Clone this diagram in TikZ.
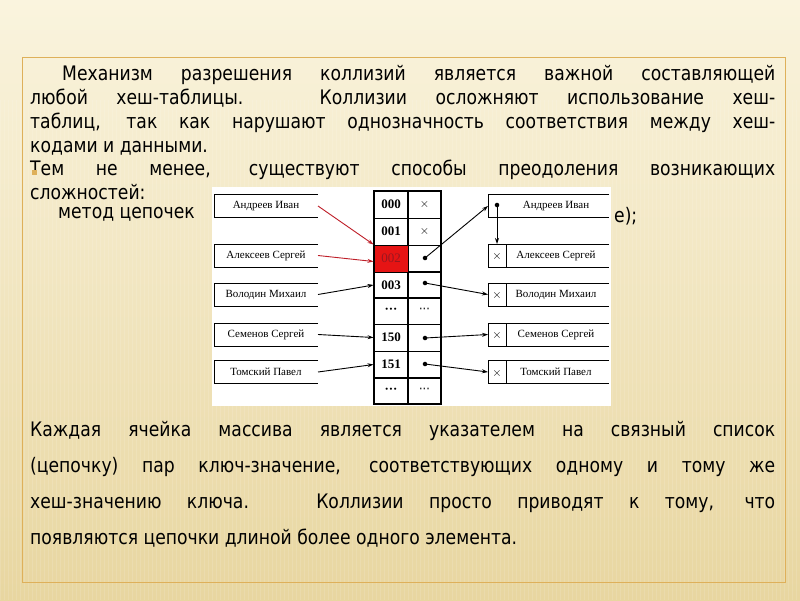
\documentclass[tikz,border=0pt]{standalone}
\usepackage{fontspec}
\setmainfont{DejaVu Sans}[FakeStretch=0.86]
\newfontfamily\tnr{Liberation Serif}
\usetikzlibrary{arrows.meta}
\definecolor{bgtop}{RGB}{250,244,222}
\definecolor{bgbot}{RGB}{232,214,160}
\definecolor{frm}{RGB}{222,176,90}
\definecolor{darkred}{RGB}{190,30,40}
\definecolor{cellred}{RGB}{230,20,20}
\tikzset{
  txt/.style={anchor=north west, inner sep=0pt, font=\fontsize{20}{24}\selectfont, align=justify},
  lbox/.style={inner sep=0pt, font=\tnr\fontsize{11}{12}\selectfont},
  cell/.style={draw, line width=1pt, minimum width=34pt, minimum height=27pt, inner sep=0pt, font=\tnr\bfseries\fontsize{13}{14}\selectfont},
  arr/.style={-{Stealth[length=6pt,width=4pt]}, line width=0.9pt},
  rarr/.style={arr, darkred},
  dot/.style={circle, fill, inner sep=1.6pt}
}
\begin{document}
\begin{tikzpicture}[x=1pt,y=-1pt]
\useasboundingbox (0,0) rectangle (800,600);
\shade[top color=bgtop, bottom color=bgbot] (0,0) rectangle (800,600);
\foreach \i in {0,4,...,800} \draw[white, opacity=0.12, line width=1pt] (\i,100) -- (\i,600);
\draw[frm, line width=1pt] (22,57) rectangle (785,582);
% texts
\node[txt, text width=745pt] (p1) at (30,65) {\hspace*{32pt}Механизм разрешения коллизий является важной составляющей\linebreak любой хеш-таблицы. Коллизии осложняют использование хеш-\linebreak таблиц, так как нарушают однозначность соответствия между хеш-\linebreak кодами и данными.\par};
\node[txt, text width=745pt] (p2) at (30,160) {Тем не менее, существуют способы преодоления возникающих\linebreak сложностей:\par};
\node[fill=frm, inner sep=0pt, minimum size=5pt] (bul) at (34,172) {};
\node[txt] (p3) at (58,207) {метод цепочек};
\node[txt] (p3b) at (614,207) {е);};
\node[txt, text width=745pt, font=\fontsize{20}{36}\selectfont] (p4) at (30,421) {Каждая ячейка массива является указателем на связный список\linebreak (цепочку) пар ключ-значение, соответствующих одному и тому же\linebreak хеш-значению ключа. Коллизии просто приводят к тому, что\linebreak появляются цепочки длиной более одного элемента.\par};
% diagram
\fill[white] (212,187) rectangle (611,406);
% left boxes
\foreach \n/\y/\t in {la/206/Андреев Иван, lb/255.5/Алексеев Сергей, lc/294.5/Володин Михаил, ld/334.5/Семенов Сергей, le/372/Томский Павел}{
  \draw[line width=0.8pt] (318,\y-11.5) -- (214,\y-11.5) -- (214,\y+11.5) -- (318,\y+11.5);
  \node[lbox] (\n) at (266,\y) {\t};
  \coordinate (\n e) at (318,\y);
}
% table
\foreach \k/\y/\a/\b in {0/204.5/000/$\times$, 1/231.5/001/$\times$, 2/258.5/{}/{}, 3/285/003/{}, 4/311/{\textperiodcentered\textperiodcentered\textperiodcentered}/{\textperiodcentered\textperiodcentered\textperiodcentered}, 5/337.5/150/{}, 6/364.5/151/{}, 7/391/{\textperiodcentered\textperiodcentered\textperiodcentered}/{\textperiodcentered\textperiodcentered\textperiodcentered}}{
  \node[cell] (a\k) at (391,\y) {\a};
  \node[cell, font=\fontsize{13}{14}\selectfont] (b\k) at (424.5,\y) {\b};
}
\node[cell, fill=cellred, text=darkred!80!black, font=\tnr\fontsize{13}{14}\selectfont] (a2) at (391,258.5) {002};
\draw[line width=1.5pt] (374,191) rectangle (441,404);
% right boxes
\foreach \n/\y/\t/\x in {rb/255.5/Алексеев Сергей/1, rc/294.5/Володин Михаил/1, rd/334.5/Семенов Сергей/1, re/372/Томский Павел/1}{
  \draw[line width=0.8pt] (609,\y-11.5) -- (488,\y-11.5) -- (488,\y+11.5) -- (609,\y+11.5);
  \draw[line width=0.8pt] (506,\y-11.5) -- (506,\y+11.5);
  \node[font=\fontsize{12}{12}\selectfont] at (497,\y+1) {$\times$};
  \node[lbox] (\n) at (556,\y) {\t};
  \coordinate (\n w) at (488,\y);
  \coordinate (\n n) at (497,\y-11.5);
}
\draw[line width=0.8pt] (609,194.5) -- (488,194.5) -- (488,217.5) -- (609,217.5);
\node[lbox] (ra) at (556,206) {Андреев Иван};
\node[dot] (ra0) at (497,205) {};
\coordinate (raw) at (488,206);
% arrows
\draw[rarr] (lae) -- (a2.north west);
\draw[rarr] (lbe) -- ([yshift=-3pt]a2.west);
\draw[arr] (lce) -- (a3.west);
\draw[arr] (lde) -- (a5.west);
\draw[arr] (lee) -- (a6.west);
\node[dot] (d2) at (425,258) {};
\node[dot] (d3) at (425,283) {};
\node[dot] (d5) at (425,338) {};
\node[dot] (d6) at (425,364) {};
\draw[arr] (d2.center) -- (raw);
\draw[arr] (ra0.center) -- (rbn);
\draw[arr] (d3.center) -- (rcw);
\draw[arr] (d5.center) -- (rdw);
\draw[arr] (d6.center) -- (rew);
\end{tikzpicture}
\end{document}
